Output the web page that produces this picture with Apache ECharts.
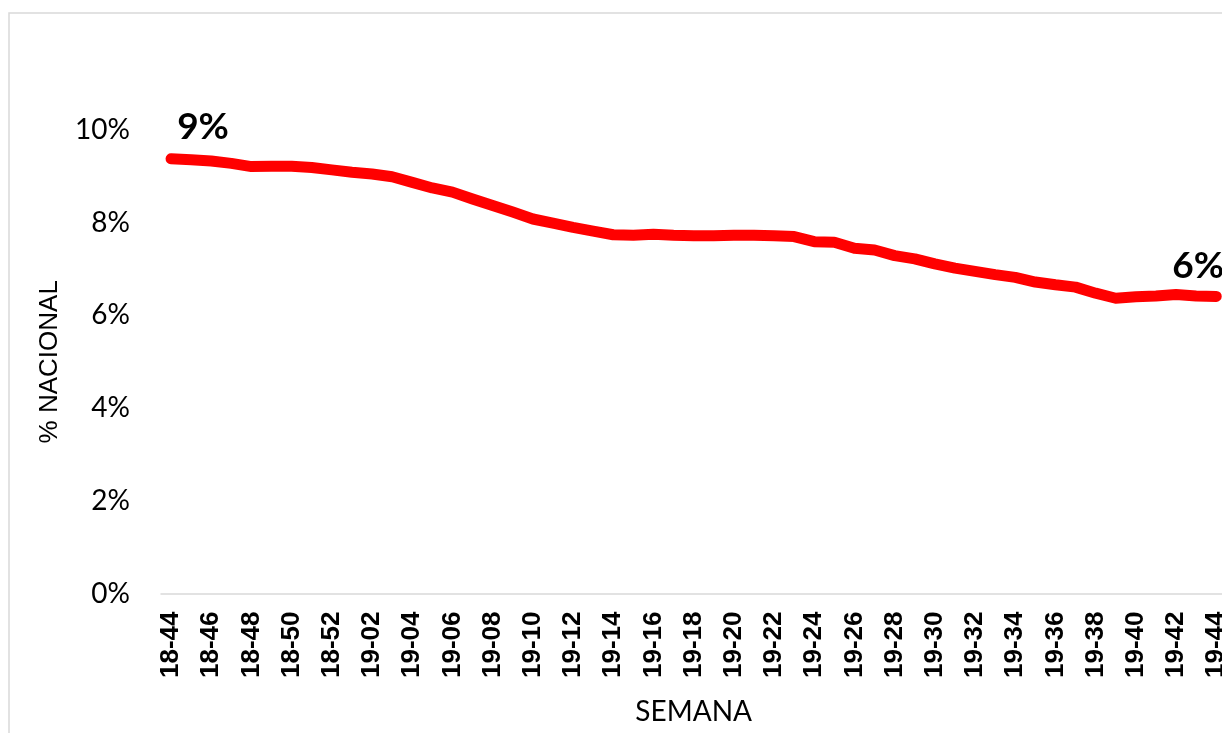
<!DOCTYPE html>
<html>
<head>
<meta charset="utf-8">
<script src="https://cdn.jsdelivr.net/npm/echarts@6/dist/echarts.min.js"></script>
<style>
html,body{margin:0;padding:0;background:#fff;}
#c{width:1222px;height:733px;}
</style>
</head>
<body>
<div id="c"></div>
<script>
const weeks = ['18-44','18-45','18-46','18-47','18-48','18-49','18-50','18-51','18-52',
'19-01','19-02','19-03','19-04','19-05','19-06','19-07','19-08','19-09','19-10',
'19-11','19-12','19-13','19-14','19-15','19-16','19-17','19-18','19-19','19-20',
'19-21','19-22','19-23','19-24','19-25','19-26','19-27','19-28','19-29','19-30',
'19-31','19-32','19-33','19-34','19-35','19-36','19-37','19-38','19-39','19-40',
'19-41','19-42','19-43','19-44'];
const nationalPct = [9.38,9.36,9.33,9.28,9.21,9.22,9.22,9.19,9.14,9.09,9.05,8.99,8.87,
8.75,8.66,8.51,8.37,8.23,8.08,7.99,7.90,7.82,7.74,7.73,7.75,7.73,
7.72,7.72,7.73,7.73,7.72,7.70,7.59,7.58,7.45,7.41,7.29,7.22,7.11,
7.02,6.95,6.88,6.82,6.72,6.66,6.61,6.48,6.37,6.40,6.42,6.45,6.42,6.41];
const yTicks = [0,2,4,6,8,10];

const last = nationalPct.length - 1;
const chart = echarts.init(document.getElementById('c'), null, {renderer:'canvas'});
const labelBase = {show:true, position:'top', fontFamily:'Lato', fontWeight:'bold', fontSize:37, color:'#000',
  formatter: p => Math.round(p.value) + '%'};
const seriesData = nationalPct.map((v,i) => {
  if (i === 0) return {value:v, label:Object.assign({}, labelBase, {offset:[32,-8]})};
  if (i === last) return {value:v, label:Object.assign({}, labelBase, {offset:[-18,-6]})};
  return {value:v, label:{show:false}};
});
chart.setOption({
  animation:false,
  backgroundColor:'#fff',
  graphic:[{type:'rect', shape:{x:9, y:13, width:1400, height:900}, style:{fill:'none', stroke:'#d9d9d9', lineWidth:1.5}, silent:true}],
  grid:{left:161, top:130, height:463.5, width:1065.3, containLabel:false, outerBoundsMode:'none'},
  xAxis:{
    type:'category', data:weeks, boundaryGap:true,
    axisLine:{show:true, lineStyle:{color:'#d9d9d9', width:1.5}},
    axisTick:{show:false},
    axisLabel:{interval:1, rotate:90, margin:18, fontFamily:'Liberation Sans', fontWeight:'bold', fontSize:26, color:'#000'},
    name:'SEMANA', nameLocation:'middle', nameGap:104,
    nameTextStyle:{fontFamily:'Lato', fontSize:28, color:'#000'}
  },
  yAxis:{
    type:'value', min:0, max:10, interval:2,
    axisLine:{show:false}, axisTick:{show:false}, splitLine:{show:false},
    axisLabel:{margin:31, fontFamily:'Lato', fontSize:28, color:'#000', formatter:v => yTicks.includes(v) ? v + '%' : ''},
    name:'% NACIONAL', nameLocation:'middle', nameRotate:90, nameGap:98,
    nameTextStyle:{fontFamily:'Liberation Sans', fontSize:26, color:'#000'}
  },
  series:[{
    type:'line', data:seriesData, smooth:false,
    showSymbol:true, symbol:'circle', symbolSize:1,
    itemStyle:{color:'#ff0000'},
    lineStyle:{color:'#ff0000', width:11, cap:'round', join:'round'},
    clip:false
  }]
});
</script>
</body>
</html>
